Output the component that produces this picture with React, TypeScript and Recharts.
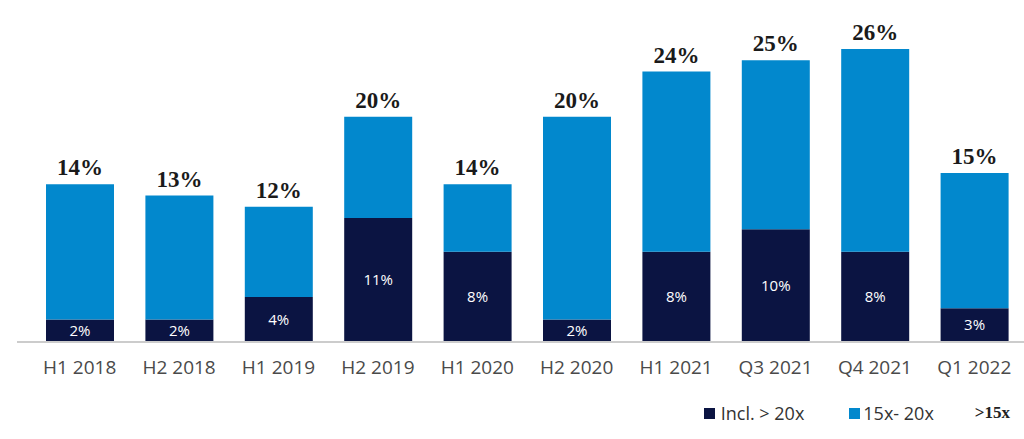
import { BarChart, Bar, XAxis, YAxis, LabelList, Legend } from 'recharts';

const periods = ['H1 2018', 'H2 2018', 'H1 2019', 'H2 2019', 'H1 2020', 'H2 2020', 'H1 2021', 'Q3 2021', 'Q4 2021', 'Q1 2022'];
const above20x = [2, 2, 4, 11, 8, 2, 8, 10, 8, 3];
const totals = [14, 13, 12, 20, 14, 20, 24, 25, 26, 15];

const DARK = '#0b1442';
const LIGHT = '#0288cd';
const SANS = '"Open Sans", "Noto Sans", sans-serif';

const data = periods.map((p, i) => ({
  period: p,
  dark: above20x[i],
  light: totals[i] - above20x[i],
  total: totals[i],
}));

const LegendContent = () => (
  <div
    style={{
      display: 'flex',
      justifyContent: 'flex-end',
      alignItems: 'center',
      fontFamily: SANS,
      fontSize: 18,
      color: '#333',
      paddingRight: 14,
    }}
  >
    <span style={{ display: 'flex', alignItems: 'center', marginRight: 45 }}>
      <span style={{ width: 11, height: 11, background: DARK, display: 'inline-block', marginRight: 6 }} />
      Incl. &gt; 20x
    </span>
    <span style={{ display: 'flex', alignItems: 'center', marginRight: 41 }}>
      <span style={{ width: 11, height: 11, background: LIGHT, display: 'inline-block', marginRight: 3 }} />
      15x- 20x
    </span>
    <span style={{ fontFamily: '"Liberation Serif", serif', fontWeight: 'bold', fontSize: 17, color: '#222' }}>
      &gt;15x
    </span>
  </div>
);

export default function App() {
  return (
    <div style={{ position: 'absolute', left: 0, top: 0, width: 1024, height: 439, background: '#fff' }}>
      <BarChart
        width={1024}
        height={439}
        data={data}
        margin={{ top: 4, right: 0, left: 17, bottom: 0 }}
      >
        <XAxis
          dataKey="period"
          axisLine={{ stroke: '#cccccc', strokeWidth: 2 }}
          tickLine={false}
          padding={{ left: 13, right: 0 }}
          height={73}
          tick={{ fontSize: 19, fill: '#4a4a4a', fontFamily: SANS }}
          tickMargin={13}
        />
        <YAxis hide domain={[0, 30]} />
        <Legend
          verticalAlign="bottom"
          wrapperStyle={{ bottom: 14 }}
          content={<LegendContent />}
        />
        <Bar dataKey="dark" stackId="a" fill={DARK} barSize={68} isAnimationActive={false}>
          <LabelList
            dataKey="dark"
            position="center"
            formatter={(v: any) => `${v}%`}
            style={{ fill: '#fff', fontSize: 15, fontFamily: SANS }}
          />
        </Bar>
        <Bar dataKey="light" stackId="a" fill={LIGHT} barSize={68} isAnimationActive={false}>
          <LabelList
            dataKey="total"
            position="top"
            offset={9}
            formatter={(v: any) => `${v}%`}
            style={{ fill: '#1a1a1a', fontSize: 23, fontWeight: 'bold', fontFamily: '"Liberation Serif", serif' }}
          />
        </Bar>
      </BarChart>
    </div>
  );
}
